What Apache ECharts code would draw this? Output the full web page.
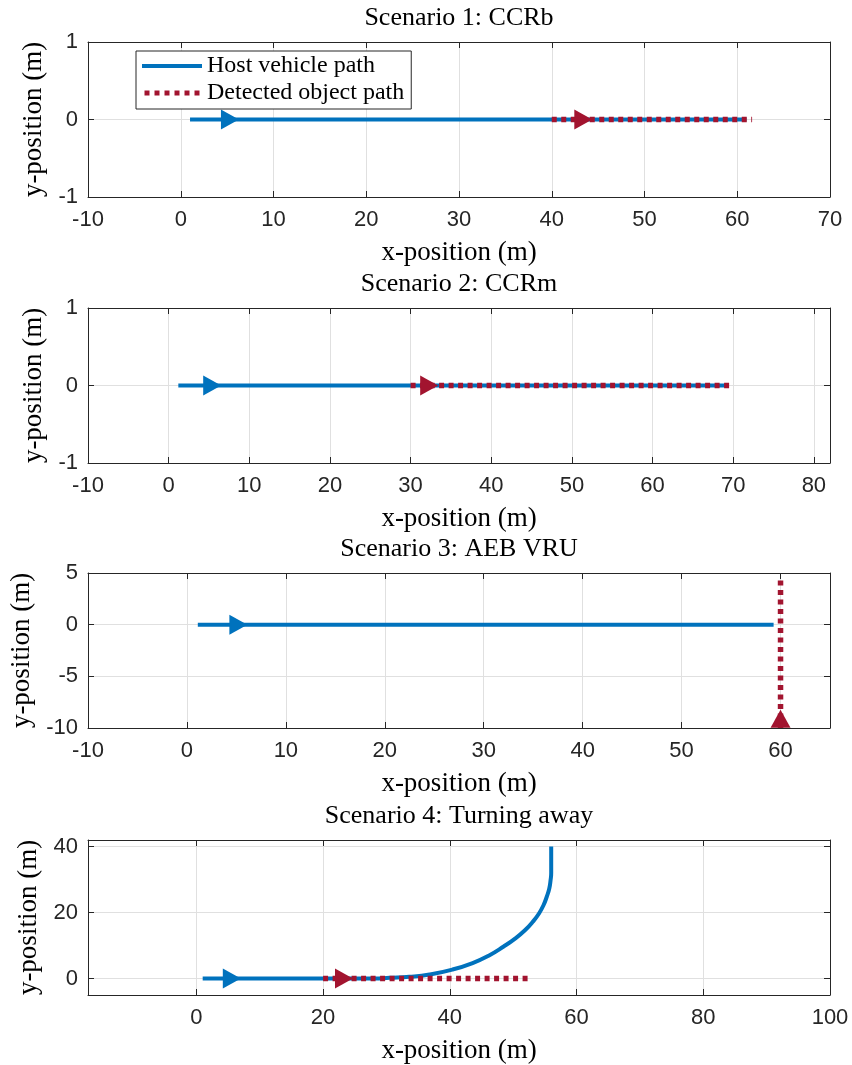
<!DOCTYPE html>
<html>
<head>
<meta charset="utf-8">
<script src="https://cdn.jsdelivr.net/npm/echarts@6/dist/echarts.min.js"></script>
<style>
  html, body { margin: 0; padding: 0; background: #ffffff; }
  #chart { width: 852px; height: 1065px; }
</style>
</head>
<body>
<div id="chart"></div>
<script>
// ---- Panel titles and series names ----
const titles = ['Scenario 1: CCRb', 'Scenario 2: CCRm', 'Scenario 3: AEB VRU', 'Scenario 4: Turning away'];
const seriesNames = ['Host vehicle path', 'Detected object path'];

// ---- Axis limits and tick values per panel ----
const xLimits = [[-10, 70], [-10, 82], [-10, 65], [-17.1, 100]];
const yLimits = [[-1, 1], [-1, 1], [-10, 5], [-5, 42]];
const xTicks = [
  [-10, 0, 10, 20, 30, 40, 50, 60, 70],
  [-10, 0, 10, 20, 30, 40, 50, 60, 70, 80],
  [-10, 0, 10, 20, 30, 40, 50, 60],
  [0, 20, 40, 60, 80, 100]
];
const yTicks = [[-1, 0, 1], [-1, 0, 1], [-10, -5, 0, 5], [0, 20, 40]];

// ---- Scenario 1: CCRb ----
const hostX1 = [1, 61];
const hostY1 = [0, 0];
const objX1 = [40, 61.6];
const objY1 = [0, 0];

// ---- Scenario 2: CCRm ----
const hostX2 = [1.2, 69];
const hostY2 = [0, 0];
const objX2 = [30, 69.5];
const objY2 = [0, 0];

// ---- Scenario 3: AEB VRU ----
const hostX3 = [1.1, 59.3];
const hostY3 = [0, 0];
const objX3 = [60, 60];
const objY3 = [-10, 4.5];

// ---- Scenario 4: Turning away ----
const hostX4 = [1, 20, 28, 30.5, 33.6, 36.8, 40.4, 43.6, 46.2, 48.5, 50.3, 51.9, 53.1, 54.1, 54.8, 55.3, 55.7, 55.9, 56, 56];
const hostY4 = [0, 0, 0, 0.2, 0.5, 1.2, 2.7, 4.7, 7.0, 9.7, 12.1, 14.7, 17.2, 19.8, 22.3, 24.8, 27.3, 29.8, 32, 40];
const objX4 = [20, 52.5];
const objY4 = [0, 0];

// ---- Direction arrow positions along each path ----
const hostArrowX = [5.3, 5.4, 5.2, 5.6];
const hostArrowY = [0, 0, 0, 0];
const objArrowX = [43.4, 32.3, 60, 23.3];
const objArrowY = [0, 0, -9.1, 0];

const hostX = [hostX1, hostX2, hostX3, hostX4];
const hostY = [hostY1, hostY2, hostY3, hostY4];
const objX = [objX1, objX2, objX3, objX4];
const objY = [objY1, objY2, objY3, objY4];

const BLUE = '#0072BD';
const RED = '#A2142F';
const AXIS = '#262626';
const GRID = '#e0e0e0';
const SERIF = '"Liberation Serif", "Times New Roman", serif';
const SANS = '"Liberation Sans", Arial, Helvetica, sans-serif';

const gridTops = [42, 308, 573, 840];
const gridH = 155;
const gridLeft = 88;
const gridRight = 22;
const centerX = gridLeft + (852 - gridLeft - gridRight) / 2;

const HOST_W = 4;
const OBJ_W = 5.5;
const OBJ_DASH = [5, 4.5];

const zip = (xs, ys) => xs.map((x, i) => [x, ys[i]]);

// arrow rotation from the initial heading of a path (triangle points up by default)
function headingRotate(xs, ys) {
  const dx = xs[1] - xs[0];
  const dy = ys[1] - ys[0];
  return Math.atan2(dy, dx) * 180 / Math.PI - 90;
}

// legend glyphs: a solid bar and a row of square dots
const solidIcon = 'path://M0,0h60v4h-60z';
let dotted = 'path://';
for (let k = 0; k < 6; k++) dotted += 'M' + (k * 10) + ',0h5v5h-5z';
const dottedIcon = dotted;

const grids = [], xAxes = [], yAxes = [], series = [], titleList = [];

for (let i = 0; i < 4; i++) {
  grids.push({ left: gridLeft, right: gridRight, top: gridTops[i], height: gridH, containLabel: false });

  titleList.push({
    text: titles[i],
    left: centerX,
    top: gridTops[i] - 37,
    textAlign: 'center',
    padding: 0,
    textStyle: { fontFamily: SERIF, fontSize: 26, fontWeight: 'normal', color: '#000' }
  });

  const axisLine = { show: true, onZero: false, lineStyle: { color: AXIS, width: 1 } };

  // bottom x axis
  xAxes.push({
    type: 'value', gridIndex: i, position: 'bottom',
    min: xLimits[i][0], max: xLimits[i][1],
    name: 'x-position (m)', nameLocation: 'middle', nameGap: 42,
    nameTextStyle: { fontFamily: SERIF, fontSize: 27, color: '#000' },
    axisLine: axisLine,
    axisTick: { show: true, inside: true, length: 6, customValues: xTicks[i], lineStyle: { color: AXIS } },
    axisLabel: { show: true, customValues: xTicks[i], margin: 12, fontFamily: SANS, fontSize: 22, color: AXIS },
    splitLine: { show: true, lineStyle: { color: GRID, width: 1 } }
  });
  // top x axis (box edge with ticks)
  xAxes.push({
    type: 'value', gridIndex: i, position: 'top',
    min: xLimits[i][0], max: xLimits[i][1],
    axisLine: axisLine,
    axisTick: { show: true, inside: true, length: 6, customValues: xTicks[i], lineStyle: { color: AXIS } },
    axisLabel: { show: false },
    splitLine: { show: false }
  });
  // left y axis
  yAxes.push({
    type: 'value', gridIndex: i, position: 'left',
    min: yLimits[i][0], max: yLimits[i][1],
    name: 'y-position (m)', nameLocation: 'middle', nameGap: 31, nameRotate: 90,
    nameTextStyle: { fontFamily: SERIF, fontSize: 27, color: '#000' },
    axisLine: axisLine,
    axisTick: { show: true, inside: true, length: 6, customValues: yTicks[i], lineStyle: { color: AXIS } },
    axisLabel: { show: true, customValues: yTicks[i], margin: 10, fontFamily: SANS, fontSize: 22, color: AXIS },
    splitLine: { show: true, lineStyle: { color: GRID, width: 1 } }
  });
  // right y axis (box edge with ticks)
  yAxes.push({
    type: 'value', gridIndex: i, position: 'right',
    min: yLimits[i][0], max: yLimits[i][1],
    axisLine: axisLine,
    axisTick: { show: true, inside: true, length: 6, customValues: yTicks[i], lineStyle: { color: AXIS } },
    axisLabel: { show: false },
    splitLine: { show: false }
  });

  const xi = 2 * i, yi = 2 * i;

  series.push({
    name: seriesNames[0], type: 'line', xAxisIndex: xi, yAxisIndex: yi,
    data: zip(hostX[i], hostY[i]),
    symbol: 'none', showSymbol: false, smooth: i === 3 ? 0.5 : false,
    lineStyle: { color: BLUE, width: HOST_W, join: 'round' }, itemStyle: { color: BLUE },
    z: 2, silent: true
  });
  series.push({
    name: seriesNames[1], type: 'line', xAxisIndex: xi, yAxisIndex: yi,
    data: zip(objX[i], objY[i]),
    symbol: 'none', showSymbol: false,
    lineStyle: { color: RED, width: OBJ_W, type: OBJ_DASH, cap: 'butt' }, itemStyle: { color: RED },
    z: 3, silent: true
  });
  series.push({
    type: 'scatter', xAxisIndex: xi, yAxisIndex: yi,
    data: [[hostArrowX[i], hostArrowY[i]]],
    symbol: 'triangle', symbolSize: [20, 18],
    symbolRotate: headingRotate(hostX[i], hostY[i]),
    itemStyle: { color: BLUE, opacity: 1 }, z: 4, silent: true
  });
  series.push({
    type: 'scatter', xAxisIndex: xi, yAxisIndex: yi,
    data: [[objArrowX[i], objArrowY[i]]],
    symbol: 'triangle', symbolSize: [20, 18],
    symbolRotate: headingRotate(objX[i], objY[i]),
    itemStyle: { color: RED, opacity: 1 }, z: 5, silent: true
  });
}

const chart = echarts.init(document.getElementById('chart'), null, { renderer: 'canvas' });
chart.setOption({
  animation: false,
  backgroundColor: '#ffffff',
  title: titleList,
  legend: {
    data: [
      { name: seriesNames[0], icon: solidIcon, itemStyle: { color: BLUE } },
      { name: seriesNames[1], icon: dottedIcon, itemStyle: { color: RED } }
    ],
    orient: 'vertical',
    left: 136, top: 51,
    padding: [3, 7, 4, 6],
    itemGap: 3,
    itemWidth: 60, itemHeight: 5,
    backgroundColor: '#ffffff',
    borderColor: AXIS, borderWidth: 1, borderRadius: 0,
    textStyle: { fontFamily: SERIF, fontSize: 24, color: '#000', lineHeight: 24 },
    selectedMode: false,
    z: 10
  },
  grid: grids,
  xAxis: xAxes,
  yAxis: yAxes,
  series: series
});
</script>
</body>
</html>
